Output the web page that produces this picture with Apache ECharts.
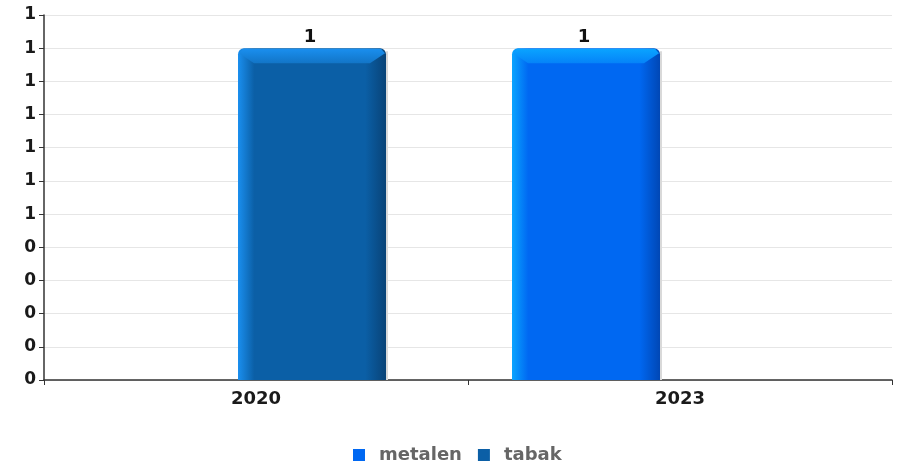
<!DOCTYPE html>
<html>
<head>
<meta charset="utf-8">
<script src="https://cdn.jsdelivr.net/npm/echarts@6/dist/echarts.min.js"></script>
<style>
  html, body { margin: 0; padding: 0; background: #fff; }
  #chart { width: 901px; height: 466px; }
</style>
</head>
<body>
<div id="chart"></div>
<script>
// Categories and values per series (null = no bar)
const categories = ['2020', '2023'];
const metalen = [null, 1];
const tabak = [1, null];
const yTicks = { min: 0, max: 1.1, step: 0.1 };

const FONT = 'DejaVu Sans';

// Shading per series: bright left edge, flat body, dark right edge
const palette = {
  metalen: { light: '#0aa4ff', body: '#0068f2', dark: '#0047b5' },
  tabak:   { light: '#1a8fef', body: '#0b5fa6', dark: '#094377' }
};

// Slot of each series inside a category band (fraction of band width)
const slots = {
  metalen: { start: 44 / 424, width: 148 / 424 },
  tabak:   { start: 194 / 424, width: 148 / 424 }
};

function toData(values) {
  const out = [];
  values.forEach((v, i) => { if (v !== null && v !== undefined) out.push([i, v]); });
  return out;
}

function makeRenderer(name) {
  const c = palette[name];
  const slot = slots[name];
  return function (params, api) {
    const cat = api.value(0);
    const val = api.value(1);
    const base = api.coord([cat, 0]);
    const top = api.coord([cat, val]);
    const band = api.size([1, 0])[0];
    const x0 = base[0] - band / 2 + band * slot.start;
    const w = band * slot.width;
    const y0 = top[1];
    const h = base[1] - y0;
    const bev = Math.min(15, h / 2);
    return {
      type: 'group',
      children: [
        {
          type: 'rect',
          shape: { x: x0 + w, y: y0 + 3, width: 2, height: h - 3 },
          style: { fill: '#d9d9d9' }
        },
        {
          type: 'rect',
          shape: { x: x0, y: y0, width: w, height: h, r: [6, 6, 0, 0] },
          style: {
            fill: new echarts.graphic.LinearGradient(0, 0, 1, 0, [
              { offset: 0, color: c.light },
              { offset: 0.11, color: c.body },
              { offset: 0.86, color: c.body },
              { offset: 1, color: c.dark }
            ])
          }
        },
        {
          type: 'polygon',
          shape: {
            points: [
              [x0 + 1, y0 + 5], [x0 + 5, y0 + 0.5], [x0 + w - 5, y0 + 0.5], [x0 + w - 1, y0 + 5],
              [x0 + w - 16, y0 + bev], [x0 + 16, y0 + bev]
            ]
          },
          style: {
            fill: new echarts.graphic.LinearGradient(0, 0, 0, 1, [
              { offset: 0, color: c.light },
              { offset: 1, color: echarts.color.lerp(0.55, [c.light, c.body]) }
            ])
          }
        },
        {
          type: 'text',
          style: {
            text: String(val),
            x: x0 + w / 2 - 2,
            y: y0 - 2,
            textAlign: 'center',
            textVerticalAlign: 'bottom',
            font: 'bold 18px "' + FONT + '"',
            fill: '#111'
          }
        }
      ]
    };
  };
}

const chart = echarts.init(document.getElementById('chart'), null, { renderer: 'canvas' });

chart.setOption({
  animation: false,
  backgroundColor: '#fff',
  grid: { left: 44, right: 9, top: 15, bottom: 86, containLabel: false },
  legend: {
    data: ['metalen', 'tabak'],
    top: 441,
    left: 348,
    icon: 'rect',
    itemWidth: 12,
    itemHeight: 12,
    itemGap: 16,
    textStyle: {
      fontFamily: FONT, fontWeight: 'bold', fontSize: 18, color: '#666',
      padding: [0, 0, 0, 9]
    }
  },
  xAxis: {
    type: 'category',
    data: categories,
    axisLine: { lineStyle: { color: '#333', width: 1.5 } },
    axisTick: { show: true, length: 5, lineStyle: { color: '#333' } },
    axisLabel: { fontFamily: FONT, fontWeight: 'bold', fontSize: 18, color: '#1a1a1a', margin: 10 },
    splitLine: { show: false }
  },
  yAxis: {
    type: 'value',
    min: yTicks.min,
    max: yTicks.max,
    interval: yTicks.step,
    axisLine: { show: true, lineStyle: { color: '#333', width: 1.5 } },
    axisTick: { show: true, length: 5, lineStyle: { color: '#333' } },
    axisLabel: {
      fontFamily: FONT, fontWeight: 'bold', fontSize: 17, color: '#1a1a1a', margin: 8,
      formatter: v => String(Math.round(v))
    },
    splitLine: { show: true, lineStyle: { color: '#e6e6e6', width: 1 } }
  },
  series: [
    {
      name: 'metalen',
      type: 'custom',
      itemStyle: { color: palette.metalen.body },
      renderItem: makeRenderer('metalen'),
      encode: { x: 0, y: 1 },
      data: toData(metalen)
    },
    {
      name: 'tabak',
      type: 'custom',
      itemStyle: { color: palette.tabak.body },
      renderItem: makeRenderer('tabak'),
      encode: { x: 0, y: 1 },
      data: toData(tabak)
    }
  ]
});
</script>
</body>
</html>
